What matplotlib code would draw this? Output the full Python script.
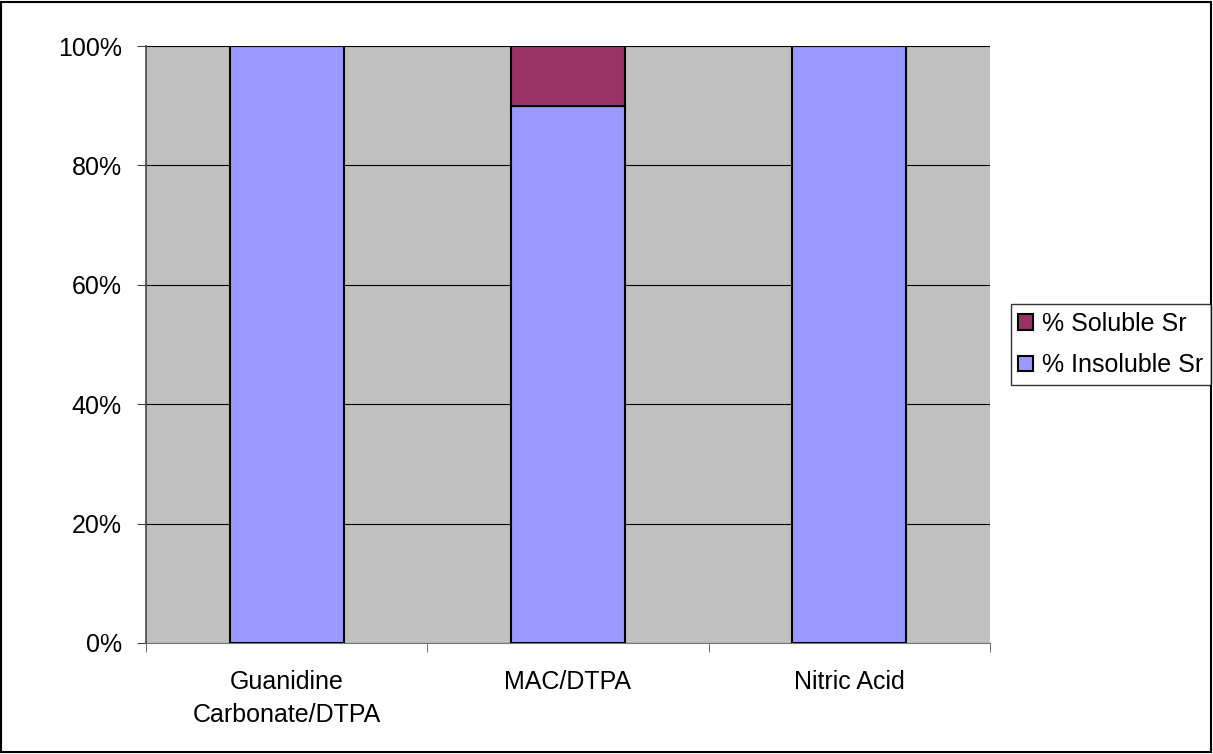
import matplotlib.pyplot as plt
from matplotlib.patches import Rectangle
from matplotlib.ticker import PercentFormatter, FixedLocator, NullFormatter
import numpy as np

plt.rcParams['font.family'] = ['Liberation Sans', 'DejaVu Sans']

categories = ['Guanidine\nCarbonate/DTPA', 'MAC/DTPA', 'Nitric Acid']
insoluble = [100, 90, 100]
soluble = [0, 10, 0]

fig = plt.figure(figsize=(12.13, 7.54), dpi=100)
ax = fig.add_axes([146 / 1213, 111 / 754, 844 / 1213, 597 / 754])
ax.set_facecolor('#c0c0c0')

x = np.arange(len(categories))
w = 0.405
ax.bar(x, insoluble, width=w, color='#9999ff', edgecolor='black', linewidth=1.5,
       label='% Insoluble Sr', zorder=3)
ax.bar(x, soluble, width=w, bottom=insoluble, color='#993366', edgecolor='black',
       linewidth=1.5, label='% Soluble Sr', zorder=3)

ax.set_xlim(-0.5, len(categories) - 0.5)
ax.set_ylim(0, 100)
ax.set_yticks(np.arange(0, 101, 20))
ax.yaxis.set_major_formatter(PercentFormatter(decimals=0))
ax.grid(axis='y', color='black', linewidth=0.8, zorder=1)

# category labels in the middle, ticks on the boundaries
ax.set_xticks(x)
ax.set_xticklabels(categories, linespacing=1.45)
ax.xaxis.set_minor_locator(FixedLocator(np.arange(-0.5, len(categories), 1.0)))
ax.xaxis.set_minor_formatter(NullFormatter())
ax.tick_params(axis='x', which='major', length=0, pad=19.5, labelsize=18)
ax.tick_params(axis='x', which='minor', length=6.5, color='#555555')
ax.tick_params(axis='y', length=6.5, color='#444444', labelsize=18, pad=11)

for side in ['top', 'right']:
    ax.spines[side].set_visible(False)
ax.spines['left'].set_color('#444444')
ax.spines['left'].set_linewidth(1.2)
ax.spines['bottom'].set_color('#777777')

handles, labels = ax.get_legend_handles_labels()
leg = fig.legend(handles[::-1], labels[::-1], loc='center left',
                 bbox_to_anchor=(1011 / 1213, 1 - 344.5 / 754), frameon=True,
                 fancybox=False, edgecolor='black', fontsize=18,
                 handlelength=0.56, handleheight=0.56, handletextpad=0.4,
                 labelspacing=0.7, borderpad=0.3, borderaxespad=0)
leg.get_frame().set_linewidth(1.0)

# outer frame
fig.patches.append(Rectangle((0.001, 0.002), 0.997, 0.996, transform=fig.transFigure,
                             fill=False, edgecolor='black', linewidth=1.5))

fig.savefig('out.png', dpi=100)
